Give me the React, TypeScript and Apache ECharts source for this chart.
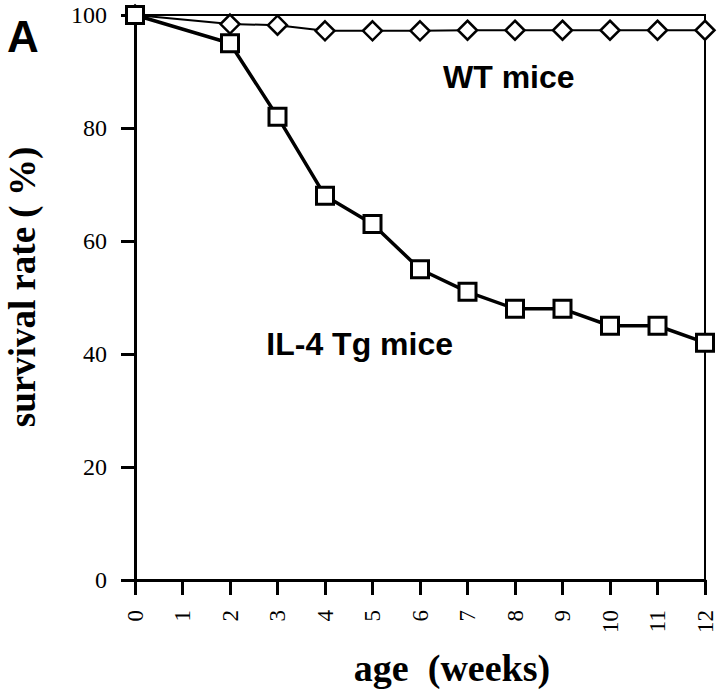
import React, { useEffect, useRef } from "react";
import * as echarts from "echarts";

const weeks = [0, 2, 3, 4, 5, 6, 7, 8, 9, 10, 11, 12];
const wtSurvival = [100, 98.4, 98.2, 97.2, 97.2, 97.2, 97.3, 97.3, 97.3, 97.3, 97.3, 97.3];
const tgSurvival = [100, 95, 82, 68, 63, 55, 51, 48, 48, 45, 45, 42];
const xTicks = [0, 1, 2, 3, 4, 5, 6, 7, 8, 9, 10, 11, 12];
const yTicks = [0, 20, 40, 60, 80, 100];

const serif = "'Liberation Serif', 'Times New Roman', serif";
const sans = "'Liberation Sans', Arial, sans-serif";

export default function App() {
  const ref = useRef<HTMLDivElement>(null);
  useEffect(() => {
    if (!ref.current) return;
    const chart = echarts.init(ref.current, null, { renderer: "svg" });
    chart.setOption({
      animation: false,
      backgroundColor: "#ffffff",
      grid: {
        left: 135,
        right: 15,
        top: 15,
        bottom: 111,
        show: true,
        borderColor: "#000",
        borderWidth: 2,
        backgroundColor: "transparent",
      },
      xAxis: {
        type: "value",
        min: xTicks[0],
        max: xTicks[xTicks.length - 1],
        interval: 1,
        splitLine: { show: false },
        axisLine: { show: true, onZero: false, lineStyle: { color: "#000", width: 3 } },
        axisTick: { show: true, inside: false, length: 15, lineStyle: { color: "#000", width: 3 } },
        axisLabel: {
          rotate: 90,
          margin: 30,
          color: "#000",
          fontFamily: serif,
          fontSize: 23,
        },
      },
      yAxis: {
        type: "value",
        min: yTicks[0],
        max: yTicks[yTicks.length - 1],
        interval: 20,
        splitLine: { show: false },
        axisLine: { show: true, onZero: false, lineStyle: { color: "#000", width: 3 } },
        axisTick: { show: true, inside: false, length: 14, lineStyle: { color: "#000", width: 3 } },
        axisLabel: {
          margin: 28,
          color: "#000",
          fontFamily: serif,
          fontSize: 24,
        },
      },
      series: [
        {
          name: "WT mice",
          type: "line",
          data: weeks.map((w, i) => [w, wtSurvival[i]]),
          symbol: "diamond",
          symbolSize: 19,
          lineStyle: { color: "#000", width: 2 },
          itemStyle: { color: "#fff", borderColor: "#000", borderWidth: 2.5 },
          z: 2,
        },
        {
          name: "IL-4 Tg mice",
          type: "line",
          data: weeks.map((w, i) => [w, tgSurvival[i]]),
          symbol: "rect",
          symbolSize: 17,
          lineStyle: { color: "#000", width: 3.5 },
          itemStyle: { color: "#fff", borderColor: "#000", borderWidth: 3 },
          z: 3,
        },
      ],
      graphic: [
        {
          type: "text",
          x: 7,
          y: 36,
          style: {
            text: "A",
            font: `bold 44px ${sans}`,
            fill: "#000",
            textAlign: "left",
            textVerticalAlign: "middle",
          },
        },
        {
          type: "text",
          x: 443,
          y: 77,
          style: {
            text: "WT mice",
            font: `bold 32px ${sans}`,
            fill: "#000",
            textAlign: "left",
            textVerticalAlign: "middle",
          },
        },
        {
          type: "text",
          x: 453,
          y: 344,
          style: {
            text: "IL-4 Tg mice",
            font: `bold 32px ${sans}`,
            fill: "#000",
            textAlign: "right",
            textVerticalAlign: "middle",
          },
        },
        {
          type: "text",
          x: 452,
          y: 668,
          style: {
            text: "age  (weeks)",
            font: `bold 38px ${serif}`,
            fill: "#000",
            textAlign: "center",
            textVerticalAlign: "middle",
          },
        },
        {
          type: "text",
          x: 22,
          y: 287,
          rotation: Math.PI / 2,
          style: {
            text: "survival rate ( %)",
            font: `bold 37px ${serif}`,
            fill: "#000",
            textAlign: "center",
            textVerticalAlign: "middle",
          },
        },
      ],
    });
    return () => chart.dispose();
  }, []);
  return <div ref={ref} style={{ width: 720, height: 691, position: "absolute", left: 0, top: 0 }} />;
}
